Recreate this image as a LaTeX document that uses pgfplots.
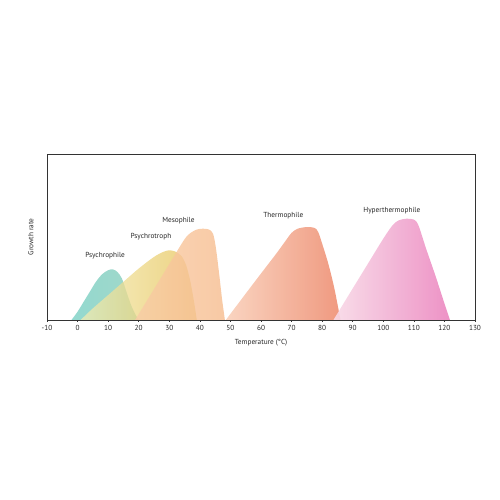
\documentclass[border=0pt]{standalone}
\usepackage{fontspec}
\setmainfont{PT Sans}
\usepackage{pgfplots}
\pgfplotsset{compat=1.18}
\definecolor{frame}{HTML}{333333}
\definecolor{tealL}{HTML}{88D5CB}
\definecolor{tealR}{HTML}{96D3C2}
\definecolor{yelL}{HTML}{F3ECB4}
\definecolor{yelR}{HTML}{E6C255}
\definecolor{oraL}{HTML}{F9CCA6}
\definecolor{oraR}{HTML}{F6BC8E}
\definecolor{thL}{HTML}{F9D0BA}
\definecolor{thR}{HTML}{EE8E72}
\definecolor{hyL}{HTML}{F8DAE7}
\definecolor{hyR}{HTML}{EB86BF}
\begin{document}
\begin{tikzpicture}[x=1pt,y=1pt]
\path[use as bounding box] (0,0) rectangle (500,500);
\begin{axis}[
  at={(47pt,180pt)}, anchor=south west,
  scale only axis, width=428pt, height=166pt,
  xmin=-10, xmax=130, ymin=0, ymax=1,
  xtick={-10,0,...,130}, ytick=\empty,
  xtick pos=lower, tick align=outside, major tick length=2pt,
  tick style={draw=frame, line width=0.6pt},
  axis line style={draw=frame, line width=0.9pt},
  /pgf/number format/assume math mode=true,
  x tick label style={font=\fontsize{7.3}{8}\selectfont, text=black!85},
  xlabel={Temperature (°C)},
  xlabel style={font=\fontsize{7.3}{8}\selectfont, text=black!85, yshift=-2pt},
  ylabel={Growth rate},
  ylabel style={font=\fontsize{7.3}{8}\selectfont, text=black!85, yshift=8pt},
  clip=false,
]
\addplot[draw=none, smooth, tension=0.5, fill opacity=0.9, left color=tealL, right color=tealR]
 coordinates {(-2,0) (0,0.05) (2,0.11) (4,0.17) (6,0.23) (8,0.275) (10,0.30) (11.5,0.305) (13,0.29) (14.5,0.25) (16,0.17) (17.5,0.09) (19,0.03) (20,0)};
\addplot[draw=none, smooth, tension=0.5, fill opacity=0.75, left color=yelL, right color=yelR]
 coordinates {(1,0) (5,0.07) (10,0.15) (15,0.23) (20,0.31) (25,0.38) (28,0.41) (30,0.42) (32,0.412) (34,0.385) (35.5,0.33) (36.8,0.24) (38,0.12) (39,0)};
\addplot[draw=none, smooth, tension=0.5, fill opacity=0.8, left color=oraL, right color=oraR]
 coordinates {(18.8,0) (25,0.186) (30,0.337) (35,0.487) (37,0.525) (39,0.545) (41,0.55) (43,0.545) (44.3,0.52) (45.2,0.44) (46.3,0.28) (47.3,0.12) (48.2,0)};
\addplot[draw=none, smooth, tension=0.5, fill opacity=0.9, left color=thL, right color=thR]
 coordinates {(48.5,0) (55,0.159) (60,0.28) (65,0.40) (68,0.476) (70,0.525) (72,0.55) (75,0.56) (77.5,0.555) (78.7,0.53) (80,0.46) (82,0.34) (84,0.19) (86,0)};
\addplot[draw=none, smooth, tension=0.5, fill opacity=0.9, left color=hyL, right color=hyR]
 coordinates {(83.7,0) (90,0.19) (95,0.34) (100,0.49) (103,0.57) (105,0.6) (107.5,0.61) (110,0.605) (111.5,0.57) (114,0.43) (117,0.27) (120,0.1) (121.8,0)};
\begin{scope}[every node/.style={font=\fontsize{7.3}{8}\selectfont, text=black!85}]
\node at (axis cs:9,0.39) {Psychrophile};
\node at (axis cs:24,0.50) {Psychrotroph};
\node at (axis cs:33,0.60) {Mesophile};
\node at (axis cs:67.3,0.63) {Thermophile};
\node at (axis cs:102.8,0.657) {Hyperthermophile};
\end{scope}
\end{axis}
\end{tikzpicture}
\end{document}
